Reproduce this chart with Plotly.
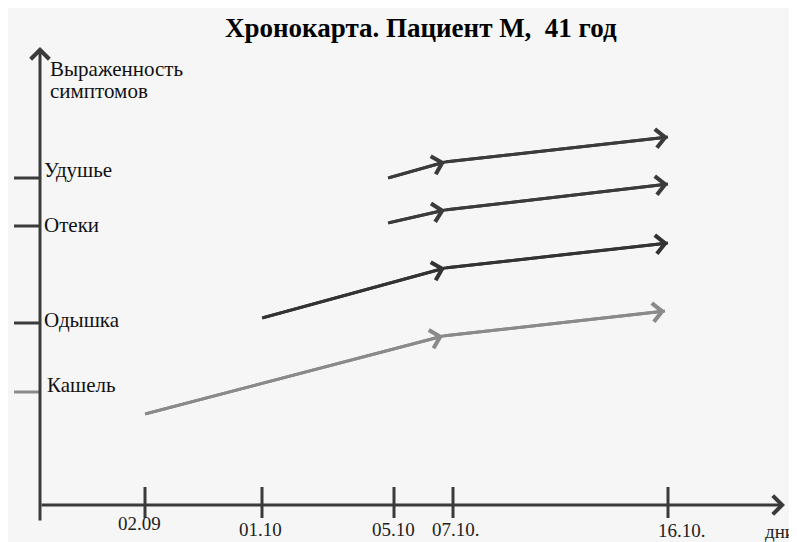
import plotly.graph_objects as go

# ---- data (schematic units: x = position along time axis, y = symptom severity) ----
title_text = "Хронокарта. Пациент М,  41 год"
y_axis_label_lines = ["Выраженность", "симптомов"]
x_axis_label = "дни"

date_labels = ["02.09", "01.10", "05.10", "07.10.", "16.10."]
date_pos = [1.05, 2.22, 3.54, 4.13, 6.28]

symptoms = ["Удушье", "Отеки", "Одышка", "Кашель"]
symptom_level = [3.27, 2.79, 1.82, 1.13]

series_x = {
    "Удушье": [3.48, 4.05, 6.28],
    "Отеки": [3.48, 4.05, 6.28],
    "Одышка": [2.22, 4.05, 6.28],
    "Кашель": [1.05, 4.03, 6.25],
}
series_y = {
    "Удушье": [3.27, 3.43, 3.68],
    "Отеки": [2.82, 2.95, 3.21],
    "Одышка": [1.87, 2.37, 2.62],
    "Кашель": [0.91, 1.69, 1.94],
}

DARK = "#3b3b3b"
GRAY = "#8a8a8a"
colors = {"Удушье": DARK, "Отеки": DARK, "Одышка": "#333333", "Кашель": GRAY}

# ranges chosen so the page (with its 8px body margin) lines up with the reference
X_RANGE = [-0.32, 7.65]
Y_RANGE = [-0.45, 4.97]
X_END = 7.45
Y_TOP = 4.58

SERIF = "Liberation Serif"

fig = go.Figure()

annotations = []
shapes = []

# series lines
for name in symptoms:
    xs, ys = series_x[name], series_y[name]
    fig.add_trace(go.Scatter(x=xs, y=ys, mode="lines",
                             line=dict(color=colors[name], width=3),
                             hoverinfo="skip", showlegend=False))
    for i in range(1, len(xs)):
        annotations.append(dict(
            x=xs[i], y=ys[i], ax=xs[i - 1], ay=ys[i - 1],
            xref="x", yref="y", axref="x", ayref="y",
            text="", showarrow=True, arrowhead=4, arrowsize=1.2,
            arrowwidth=3, arrowcolor=colors[name], standoff=0))

# axes drawn as arrows
annotations.append(dict(x=X_END, y=0, ax=0, ay=0, xref="x", yref="y", axref="x", ayref="y",
                        text="", showarrow=True, arrowhead=4, arrowsize=1.2,
                        arrowwidth=3, arrowcolor=DARK, standoff=0))
annotations.append(dict(x=0, y=Y_TOP, ax=0, ay=-0.17, xref="x", yref="y", axref="x", ayref="y",
                        text="", showarrow=True, arrowhead=4, arrowsize=1.2,
                        arrowwidth=3, arrowcolor=DARK, standoff=0))

# x ticks + labels
label_dx = [-0.06, -0.02, -0.01, 0.03, 0.14]
label_y = [-0.18, -0.24, -0.24, -0.24, -0.25]
for lab, xp, dx, ly in zip(date_labels, date_pos, label_dx, label_y):
    shapes.append(dict(type="line", x0=xp, x1=xp, y0=0.18, y1=-0.13, xref="x", yref="y",
                       line=dict(color=DARK, width=3)))
    annotations.append(dict(x=xp + dx, y=ly, xref="x", yref="y", text=lab, showarrow=False,
                            xanchor="center", yanchor="middle",
                            font=dict(family=SERIF, size=19, color="#222222")))

annotations.append(dict(x=7.40, y=-0.26, xref="x", yref="y", text=x_axis_label, showarrow=False,
                        xanchor="center", yanchor="middle",
                        font=dict(family=SERIF, size=19, color="#222222")))

# y ticks + labels
label_dy = [0.08, 0.01, 0.03, 0.07]
label_dx2 = [0.02, 0.02, 0.02, 0.05]
for name, lv, dy, dx in zip(symptoms, symptom_level, label_dy, label_dx2):
    c = GRAY if name == "Кашель" else DARK
    shapes.append(dict(type="line", x0=-0.26, x1=0, y0=lv, y1=lv, xref="x", yref="y",
                       line=dict(color=c, width=3)))
    annotations.append(dict(x=dx, y=lv + dy, xref="x", yref="y", text=name, showarrow=False,
                            xanchor="left", yanchor="middle",
                            font=dict(family=SERIF, size=21, color="#111111")))

for line_text, ly in zip(y_axis_label_lines, [4.36, 4.14]):
    annotations.append(dict(x=0.08, y=ly, xref="x", yref="y", text=line_text, showarrow=False,
                            xanchor="left", yanchor="middle",
                            font=dict(family=SERIF, size=21, color="#111111")))

annotations.append(dict(x=0.518, y=0.963, xref="paper", yref="paper", text="<b>" + title_text + "</b>",
                        showarrow=False, xanchor="center", yanchor="middle",
                        font=dict(family=SERIF, size=27, color="#000000")))

fig.update_layout(
    width=797, height=542,
    margin=dict(l=0, r=0, t=0, b=0),
    paper_bgcolor="#f6f6f6", plot_bgcolor="#f6f6f6",
    xaxis=dict(range=X_RANGE, visible=False, fixedrange=True),
    yaxis=dict(range=Y_RANGE, visible=False, fixedrange=True),
    annotations=annotations, shapes=shapes,
    showlegend=False,
)

fig.write_html("out.html")
